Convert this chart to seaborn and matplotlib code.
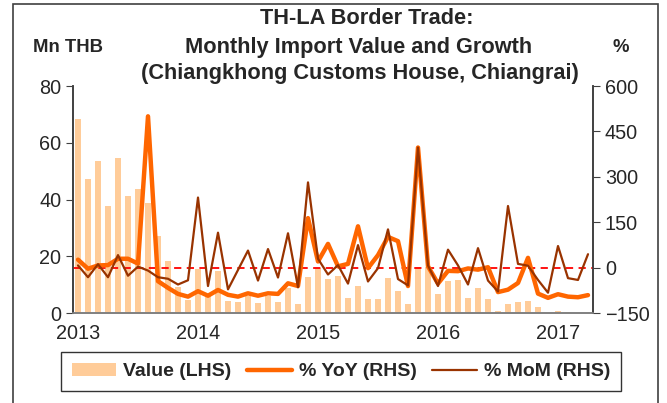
import matplotlib
matplotlib.use("Agg")
import matplotlib.pyplot as plt
import seaborn as sns
import numpy as np
import pandas as pd
from matplotlib.patches import Patch, Rectangle
from matplotlib.lines import Line2D

# ---- data (Jan 2013 .. Apr 2017) ----
value_mn_thb = [68.5, 47.4, 53.6, 37.9, 54.7, 41.2, 43.8, 38.9, 27.3, 18.4, 9.2, 4.7,
                15.5, 6.5, 14.9, 4.5, 3.9, 6.1, 3.5, 6.1, 4.1, 9.0, 3.2, 12.8,
                15.8, 12.0, 13.1, 5.3, 9.6, 5.0, 5.0, 12.3, 8.0, 3.2, 16.4, 16.4,
                6.7, 11.2, 11.6, 5.3, 8.9, 5.2, 0.9, 3.3, 3.9, 4.2, 2.3, 0.2,
                0.7, 0.35, 0.2, 0.2]
yoy_pct = [27, -3, 8, 9, 30, 30, 14, 500, -44, -66, -86, -95,
           -77, -92, -73, -89, -95, -84, -92, -84, -86, -51, -60, 164,
           21, 79, 5, 13, 137, -1, 42, 102, 88, -60, 397, 5,
           -52, -10, -11, -2, -6, 2, -80, -72, -50, 33, -85, -99,
           -87, -95, -97, -90]
mom_pct = [8, -31, 12, -31, 42, -26, 4, -9, -31, -36, -55, -41,
           232, -60, 116, -71, -7, 57, -42, 62, -32, 114, -64, 282,
           30, -22, 9, -52, 75, -45, -1, 127, -37, -58, 397, 8,
           -60, 60, 8, -55, 65, -42, -78, 204, 13, 7, -40, -82,
           72, -34, -40, 45]
year_labels = ["2013", "2014", "2015", "2016", "2017"]
title_lines = ["TH-LA Border Trade:", "Monthly Import Value and Growth",
               "(Chiangkhong Customs House, Chiangrai)"]
legend_labels = ["Value (LHS)", "% YoY (RHS)", "% MoM (RHS)"]

n = len(value_mn_thb)
month_idx = list(range(n))
df = pd.DataFrame({"m": month_idx, "value": value_mn_thb, "yoy": yoy_pct, "mom": mom_pct})

sns.set_style("white")
plt.rcParams["font.family"] = ["Liberation Sans", "DejaVu Sans"]

BAR_C = "#FFCC99"
YOY_C = "#FF6600"
MOM_C = "#993300"

fig = plt.figure(figsize=(6.67, 4.03), dpi=100)
ax = fig.add_axes([73 / 667, 1 - 313.3 / 403, 520 / 667, 227.3 / 403])

sns.barplot(data=df, x="m", y="value", ax=ax, color=BAR_C, saturation=1,
            width=0.68, linewidth=0)
ax.set_ylim(0, 80)
ax.set_yticks([0, 20, 40, 60, 80])
ax.set_xlabel("")
ax.set_ylabel("")

ax2 = ax.twinx()
ax2.axhline(0, color="#FF0000", lw=1.3, ls=(0, (4, 3)), zorder=1)
sns.lineplot(data=df, x="m", y="yoy", ax=ax2, color=YOY_C, linewidth=3.2, zorder=2)
sns.lineplot(data=df, x="m", y="mom", ax=ax2, color=MOM_C, linewidth=1.6, zorder=3)
ax2.set_ylim(-150, 600)
ax2.set_yticks([-150, 0, 150, 300, 450, 600])
ax2.set_xlabel("")
ax2.set_ylabel("")

ax.set_xlim(-0.5, n - 0.5)
ax.set_xticks([0, 12, 24, 36, 48])
ax.set_xticklabels(year_labels)
ax.set_xticks([-0.5, 11.5, 23.5, 35.5, 47.5], minor=True)
ax.tick_params(axis="x", which="major", length=0, labelsize=14.3, pad=8)
ax.tick_params(axis="x", which="minor", length=5, direction="out", color="#404040")
ax.tick_params(axis="y", length=5, direction="out", labelsize=14.3, color="#404040", left=True)
ax2.tick_params(axis="y", length=5, direction="out", labelsize=14.3, color="#404040", right=True)

for a in (ax, ax2):
    a.spines["top"].set_visible(False)
    a.spines["left"].set_color("#404040")
    a.spines["right"].set_color("#404040")
    a.spines["bottom"].set_color("#808080")
    for s in a.spines.values():
        s.set_linewidth(1.2)

# titles and axis unit labels
ys = [1 - 19 / 403, 1 - 47 / 403, 1 - 73 / 403]
xs = [367 / 667, 359 / 667, 360 / 667]
for t, x, y in zip(title_lines, xs, ys):
    fig.text(x, y, t, ha="center", va="center", fontsize=15.7, fontweight="bold")
fig.text(33 / 667, 1 - 47 / 403, "Mn THB", ha="left", va="center", fontsize=13.3, fontweight="bold")
fig.text(621 / 667, 1 - 47 / 403, "%", ha="center", va="center", fontsize=13.3, fontweight="bold")

# legend
handles = [Patch(facecolor=BAR_C, edgecolor="none"),
           Line2D([], [], color=YOY_C, lw=3.2),
           Line2D([], [], color=MOM_C, lw=1.6)]
leg = fig.legend(handles, legend_labels, loc="center", bbox_to_anchor=(341 / 667, 1 - 371.5 / 403),
                 ncol=3, frameon=True, fancybox=False, edgecolor="black",
                 prop={"weight": "bold", "size": 14}, handlelength=2.3,
                 columnspacing=0.8, handletextpad=0.36, borderpad=0.55, borderaxespad=0)
leg.get_frame().set_linewidth(1.0)

# outer frame
fig.patches.append(Rectangle((13 / 667, -0.01), (658 - 13) / 667, 1.0 - 4 / 403 + 0.01,
                             transform=fig.transFigure, fill=False, edgecolor="#404040", lw=1.2))

fig.savefig("out.png", dpi=100)
